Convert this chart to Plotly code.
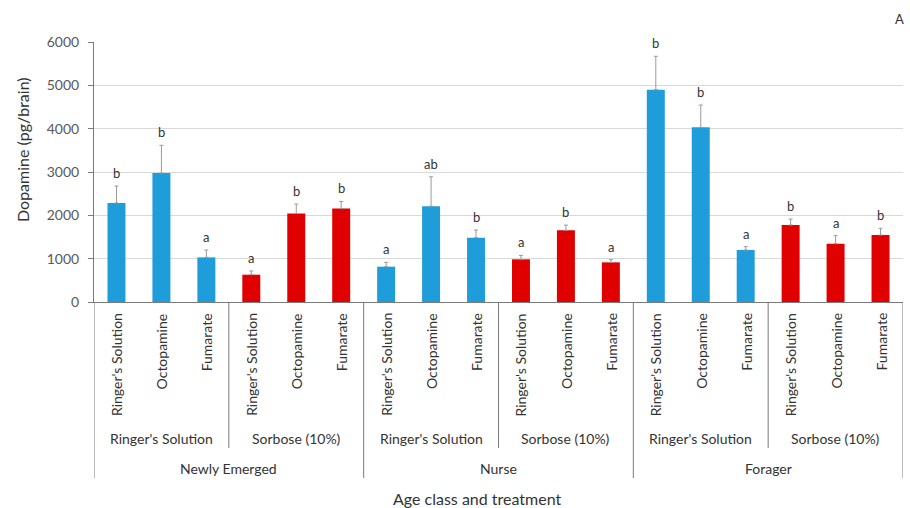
import plotly.graph_objects as go

# Dopamine per brain by age class, feeding treatment and injection
age_classes = ["Newly Emerged", "Nurse", "Forager"]
feedings = ["Ringer's Solution", "Sorbose (10%)"]
injections = ["Ringer's Solution", "Octopamine", "Fumarate"]

dopamine = [2285, 2975, 1030, 630, 2040, 2155,
            815, 2210, 1485, 985, 1655, 915,
            4900, 4030, 1200, 1777, 1346, 1546]
sem = [390, 640, 170, 85, 220, 165,
       100, 680, 175, 90, 120, 62,
       770, 515, 77, 138, 185, 154]
letters = ["b", "b", "a", "a", "b", "b",
           "a", "ab", "b", "a", "b", "a",
           "b", "b", "a", "b", "a", "b"]

feed_colors = {"Ringer's Solution": "#1F9DDA", "Sorbose (10%)": "#E00000"}

W, H = 910, 508
L, R, T, B = 94, 7, 42, 206
PW, PH = W - L - R, H - T - B
FONT = "Lato"
TXT = "#333333"
LINE = "#7a7a7a"


def py(pix):
    """Vertical pixel position -> paper coordinate."""
    return (H - B - pix) / PH


def px(pix):
    """Horizontal pixel position -> paper coordinate."""
    return (pix - L) / PW


x_pos = list(range(len(dopamine)))
colors = []
for a in age_classes:
    for f in feedings:
        colors += [feed_colors[f]] * len(injections)

fig = go.Figure(go.Bar(
    x=x_pos, y=dopamine,
    marker=dict(color=colors, line=dict(width=0)),
    error_y=dict(type="data", array=sem, arrayminus=[0] * len(sem),
                 symmetric=False, color="#9a9a9a", thickness=1, width=2),
    hoverinfo="skip",
))

annotations = []
# significance letters above the error bars
for i, (v, e, t) in enumerate(zip(dopamine, sem, letters)):
    annotations.append(dict(x=i, y=v + e, xref="x", yref="y", text=t,
                            showarrow=False, yanchor="bottom", yshift=3,
                            font=dict(family=FONT, size=13, color=TXT)))

# three-level category axis
shapes = []
n_inj = len(injections)
n_feed = len(feedings)
i = 0
for ai, a in enumerate(age_classes):
    for fi, f in enumerate(feedings):
        for inj in injections:
            annotations.append(dict(x=i, y=py(311), xref="x", yref="paper",
                                    text=inj, textangle=-90, showarrow=False,
                                    xanchor="center", yanchor="top",
                                    font=dict(family=FONT, size=14, color=TXT)))
            i += 1
        g0 = (ai * n_feed + fi) * n_inj
        annotations.append(dict(x=g0 + (n_inj - 1) / 2, y=py(438), xref="x",
                                yref="paper", text=f, showarrow=False,
                                xanchor="center", yanchor="middle",
                                font=dict(family=FONT, size=14, color=TXT)))
        if fi < n_feed - 1:
            shapes.append(dict(type="line", xref="x", yref="paper",
                               x0=g0 + n_inj - 0.5, x1=g0 + n_inj - 0.5,
                               y0=0, y1=py(448),
                               line=dict(color=LINE, width=1)))
    a0 = ai * n_feed * n_inj
    annotations.append(dict(x=a0 + (n_feed * n_inj - 1) / 2, y=py(468),
                            xref="x", yref="paper", text=a, showarrow=False,
                            xanchor="center", yanchor="middle",
                            font=dict(family=FONT, size=14, color=TXT)))
    shapes.append(dict(type="line", xref="x", yref="paper",
                       x0=a0 - 0.5, x1=a0 - 0.5, y0=0, y1=py(478),
                       line=dict(color=LINE, width=1)))
shapes.append(dict(type="line", xref="x", yref="paper",
                   x0=len(dopamine) - 0.5, x1=len(dopamine) - 0.5,
                   y0=0, y1=py(478), line=dict(color=LINE, width=1)))

# axis titles and panel letter
annotations.append(dict(x=px(477), y=py(498), xref="paper", yref="paper",
                        text="Age class and treatment", showarrow=False,
                        xanchor="center", yanchor="middle",
                        font=dict(family=FONT, size=16, color=TXT)))
annotations.append(dict(x=px(22), y=py(150), xref="paper", yref="paper",
                        text="Dopamine (pg/brain)", textangle=-90,
                        showarrow=False, xanchor="center", yanchor="middle",
                        font=dict(family=FONT, size=16, color=TXT)))
annotations.append(dict(x=px(899), y=py(19), xref="paper", yref="paper",
                        text="A", showarrow=False, xanchor="center",
                        yanchor="middle",
                        font=dict(family=FONT, size=13, color=TXT)))

fig.update_layout(
    width=W, height=H,
    margin=dict(l=L, r=R, t=T, b=B, pad=0),
    paper_bgcolor="white", plot_bgcolor="white",
    bargap=0.6, showlegend=False,
    annotations=annotations, shapes=shapes,
    xaxis=dict(range=[-0.5, len(dopamine) - 0.5], showgrid=False,
               zeroline=False, showticklabels=False, ticks="",
               showline=True, linecolor=LINE, linewidth=1),
    yaxis=dict(range=[0, 6000], dtick=1000, showgrid=True,
               gridcolor="#d9d9d9", gridwidth=1, zeroline=False,
               showline=True, linecolor=LINE, linewidth=1,
               ticks="outside", ticklen=5, tickcolor=LINE,
               ticklabelstandoff=6,
               tickfont=dict(family=FONT, size=14, color="#595959")),
)

fig.write_html("out.html")
